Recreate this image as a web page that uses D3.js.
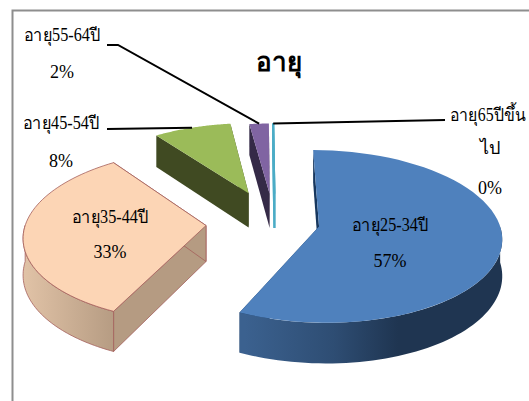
<!DOCTYPE html>
<html>
<head>
<meta charset="utf-8">
<script src="https://cdn.jsdelivr.net/npm/d3@7"></script>
<style>
  html, body { margin: 0; padding: 0; background: #fff; }
  svg { display: block; }
  text { font-family: "Liberation Serif", "Noto Sans", serif; fill: #000; text-anchor: middle; }
</style>
</head>
<body>
<svg id="chart" width="529" height="401"></svg>
<script>
const chartTitle = "อายุ";
const categories = ["อายุ25-34ปี", "อายุ35-44ปี", "อายุ45-54ปี", "อายุ55-64ปี", "อายุ65ปีขึ้นไป"];
const percentages = [57, 33, 8, 2, 0];

const topColors = ["#4f81bd", "#fcd5b5", "#9bbb59", "#8064a2", "#4bacc6"];
const edgeColors = ["#17375e", "#b59b82", "#404a22", "#352a47", "#4bacc6"];

const W = 529, H = 401;
const svg = d3.select("#chart");
const defs = svg.append("defs");

// Frame of the chart area, open on the right and bottom
svg.append("path")
  .attr("d", d3.line()([[12.5, H], [12.5, 10.5], [W, 10.5]]))
  .attr("fill", "none").attr("stroke", "#8e8e8e").attr("stroke-width", 2);

// Tilted pie plane with a slight perspective
const R = 181, cx = 262, cy = 226, tilt = 0.47, persp = 0.115, depth = 36;
const project = (X, Y, z = 0) => {
  const s = 1 / (1 + persp * Y / R);
  return [cx + X * s, cy - tilt * Y * s + z * s];
};

// How far each slice is pulled away from the pie centre (plane units)
const pulls = [[57, -1], [-56, 1], [-14, 73], [8, 72], [13, 72]];

const slices = d3.pie().value(d => d).sort(null).startAngle(0).endAngle(2 * Math.PI)(percentages);

const rimPoint = (i, a, z = 0) => project(pulls[i][0] + R * Math.sin(a), pulls[i][1] + R * Math.cos(a), z);
const hubPoint = (i, z = 0) => project(pulls[i][0], pulls[i][1], z);
const line = d3.line();
const rimAngles = (a0, a1) => d3.range(0, 61).map(k => a0 + (a1 - a0) * k / 60);

// Shading along the curved walls of the two large slices
const wallGradient = (id, x0, x1, stops) => {
  const g = defs.append("linearGradient").attr("id", id)
    .attr("gradientUnits", "userSpaceOnUse")
    .attr("x1", x0).attr("x2", x1).attr("y1", 0).attr("y2", 0);
  stops.forEach(([o, c]) => g.append("stop").attr("offset", o).attr("stop-color", c));
};
wallGradient("wall0", 245, 500, [[0, "#3b618f"], [0.35, "#2e4d73"], [0.6, "#1f3551"], [1, "#1f3551"]]);
wallGradient("wall1", 25, 116, [[0, "#e0c2a6"], [1, "#b59b82"]]);

const drawOrder = [4, 3, 2, 1, 0];
const outline = i => (i === 1 ? "#a5605c" : "none");

drawOrder.forEach(i => {
  const d = slices[i];
  const g = svg.append("g");
  const radialWall = a => [hubPoint(i), rimPoint(i, a), rimPoint(i, a, depth), hubPoint(i, depth)];

  [d.startAngle, d.endAngle].forEach(a => {
    g.append("path").attr("d", line(radialWall(a)) + "Z")
      .attr("fill", edgeColors[i])
      .attr("stroke", i === 4 ? edgeColors[i] : outline(i))
      .attr("stroke-width", i === 4 ? 2 : 0.8);
  });

  // Curved wall: only the part of the rim that faces the viewer
  const a0 = Math.max(d.startAngle, Math.PI / 2), a1 = Math.min(d.endAngle, 3 * Math.PI / 2);
  if (a1 > a0) {
    const front = rimAngles(a0, a1);
    const wall = front.map(a => rimPoint(i, a)).concat(front.slice().reverse().map(a => rimPoint(i, a, depth)));
    g.append("path").attr("d", line(wall) + "Z")
      .attr("fill", i === 0 ? "url(#wall0)" : i === 1 ? "url(#wall1)" : edgeColors[i])
      .attr("stroke", outline(i)).attr("stroke-width", 0.8);
  }

  const top = [hubPoint(i)].concat(rimAngles(d.startAngle, d.endAngle).map(a => rimPoint(i, a)));
  g.append("path").attr("d", line(top) + "Z")
    .attr("fill", topColors[i])
    .attr("stroke", i === 4 ? topColors[i] : outline(i))
    .attr("stroke-width", i === 4 ? 2 : 0.8);
});

// Leader lines from the outside labels to their slices
const leader = pts => svg.append("path").attr("d", line(pts))
  .attr("fill", "none").attr("stroke", "#000").attr("stroke-width", 2);
const rimMid = i => rimPoint(i, (slices[i].startAngle + slices[i].endAngle) / 2);
leader([[107, 45], [118, 45], rimMid(3)]);
leader([[107, 129], rimMid(2)]);
leader([rimMid(4), [445, 120]]);

// Title and data labels; the Thai names are squeezed horizontally
const label = (x, y, str, size = 18, weight = "normal") =>
  svg.append("text").attr("x", x).attr("y", y).attr("font-size", size).attr("font-weight", weight).text(str);
const nameLabel = (x, y, str, squeeze = 0.9) =>
  svg.append("text").attr("transform", `translate(${x},${y}) scale(${squeeze},1)`).attr("font-size", 18).text(str);
const pct = v => v + "%";

label(279, 71, chartTitle, 26, "bold");
nameLabel(390, 231, categories[0]);
label(390, 267, pct(percentages[0]));
nameLabel(110, 223, categories[1]);
label(110, 258, pct(percentages[1]));
nameLabel(61, 129, categories[2]);
label(61, 167, pct(percentages[2]));
nameLabel(62, 41, categories[3]);
label(62, 78, pct(percentages[3]));
nameLabel(488, 121, categories[4].slice(0, -2), 0.88);
label(490, 154, categories[4].slice(-2));
label(490, 194, pct(percentages[4]));
</script>
</body>
</html>
